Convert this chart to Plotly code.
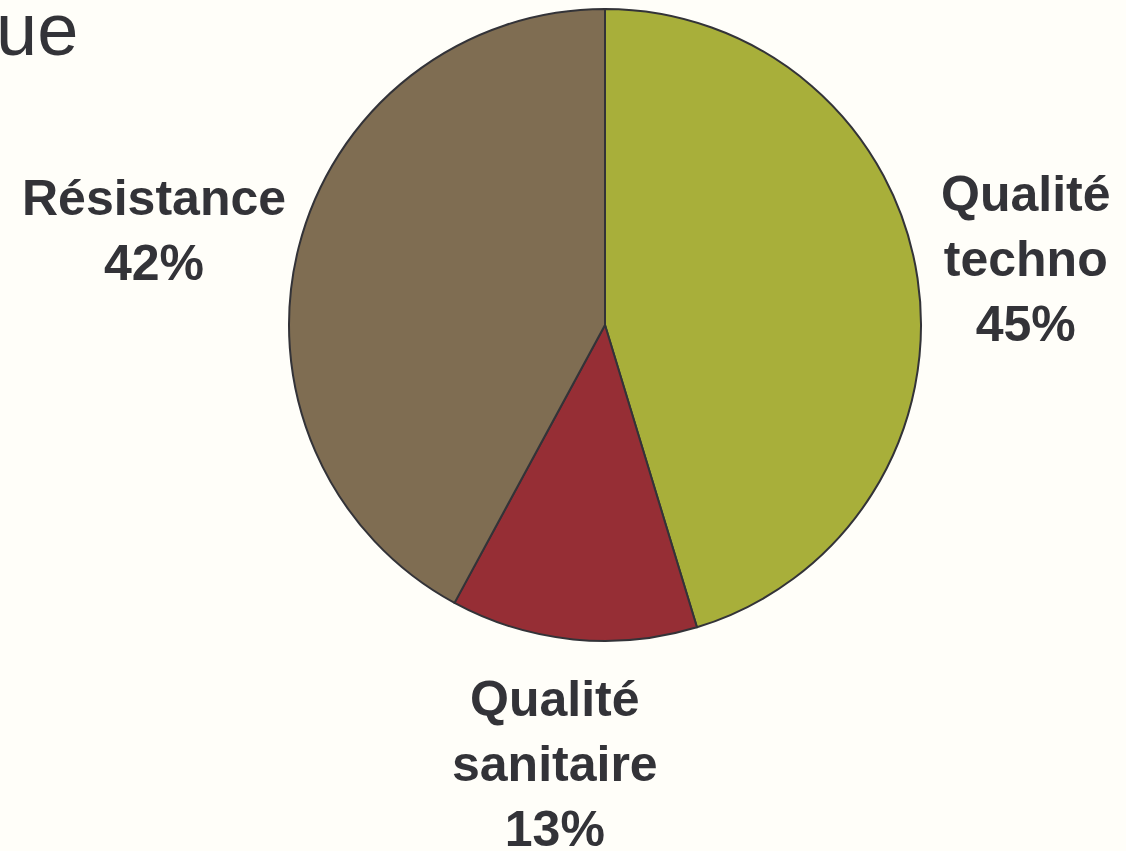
import plotly.graph_objects as go

labels = ["Qualité<br>techno", "Qualité<br>sanitaire", "Résistance"]
values = [45.3, 12.6, 42.1]
colors = ["#A8AF3A", "#962E35", "#7F6D52"]
title_fragment = "ue"

W, H = 1126, 851
bg = "#FFFEF9"
txt = "#333338"

fig = go.Figure(go.Pie(
    labels=labels,
    values=values,
    marker=dict(colors=colors, line=dict(color="#333338", width=2)),
    sort=False,
    direction="clockwise",
    rotation=0,
    textinfo="none",
    hoverinfo="label+percent",
    showlegend=False,
    domain=dict(x=[289 / W, 921 / W], y=[1 - 641 / H, 1 - 9 / H]),
))

total = sum(values)
label_pos = [(1025, 259), (555, 764), (154, 230)]
for lab, val, (px, py) in zip(labels, values, label_pos):
    fig.add_annotation(
        x=px / W, y=1 - py / H, xref="paper", yref="paper",
        text=f"<b>{lab}<br>{round(100 * val / total)}%</b>",
        showarrow=False, xanchor="center", yanchor="middle",
        font=dict(family="Liberation Sans, Arial, sans-serif", size=50, color=txt),
    )

fig.add_annotation(
    x=80 / W, y=1 - 29 / H, xref="paper", yref="paper",
    text=title_fragment, showarrow=False, xanchor="right", yanchor="middle",
    font=dict(family="Liberation Sans, Arial, sans-serif", size=74, color=txt),
)

fig.update_layout(
    width=W, height=H,
    margin=dict(l=0, r=0, t=0, b=0),
    paper_bgcolor=bg, plot_bgcolor=bg,
)

fig.write_html(
    "out.html",
    config={"displayModeBar": False},
    post_script="document.body.style.margin='0';document.body.style.overflow='hidden';",
)
